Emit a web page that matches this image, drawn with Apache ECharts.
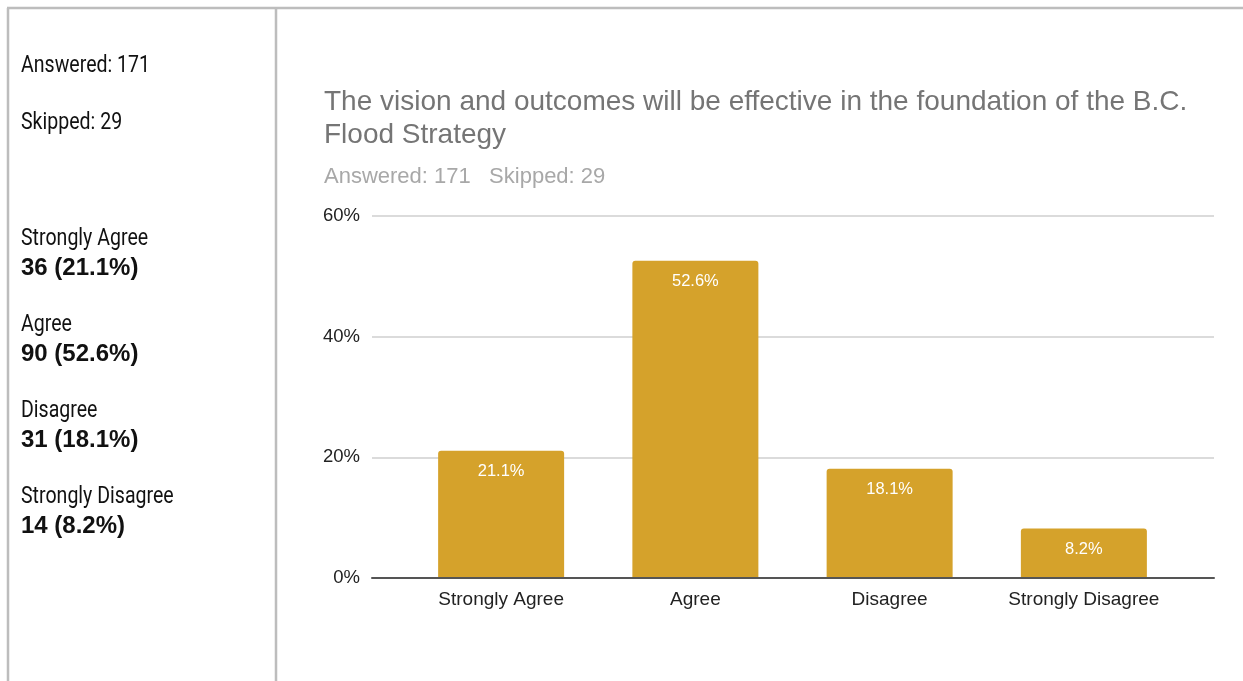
<!DOCTYPE html>
<html>
<head>
<meta charset="utf-8">
<script src="https://cdn.jsdelivr.net/npm/echarts@6/dist/echarts.min.js"></script>
<style>
  html, body { margin: 0; padding: 0; background: #fff; }
  #chart { width: 1243px; height: 681px; }
</style>
</head>
<body>
<div id="chart"></div>
<script>
// Survey question and response counts
const titleText = 'The vision and outcomes will be effective in the foundation of the B.C.\nFlood Strategy';
const answered = 171;
const skipped = 29;
const categories = ['Strongly Agree', 'Agree', 'Disagree', 'Strongly Disagree'];
const counts = [36, 90, 31, 14];
const percents = [21.1, 52.6, 18.1, 8.2];
const yTicks = [0, 20, 40, 60];

const chart = echarts.init(document.getElementById('chart'), null, { renderer: 'canvas' });

const sideFont = 'Roboto, sans-serif';
const chartFont = '"Liberation Sans", Arial, sans-serif';

// Left summary panel: a narrow face, squeezed slightly horizontally
function sideText(str, top, bold) {
  return {
    type: 'text', x: 21, y: top, scaleX: bold ? 1 : 0.85,
    style: {
      text: str,
      font: bold ? 'bold 24px ' + chartFont : '23px ' + sideFont,
      fill: '#111', textVerticalAlign: 'top'
    },
    silent: true
  };
}
const panelItems = [
  sideText('Answered: ' + answered, 55, false),
  sideText('Skipped: ' + skipped, 112, false)
];
const rowTops = [228, 314, 400, 486];
categories.forEach((c, i) => {
  panelItems.push(sideText(c, rowTops[i], false));
  panelItems.push(sideText(counts[i] + ' (' + percents[i] + '%)', rowTops[i] + 28, true));
});

const borderStyle = { stroke: '#bdbdbd', lineWidth: 2.5 };
const frame = [
  { type: 'line', shape: { x1: 7, y1: 8, x2: 1243, y2: 8 }, style: borderStyle, silent: true },
  { type: 'line', shape: { x1: 8, y1: 8, x2: 8, y2: 681 }, style: borderStyle, silent: true },
  { type: 'line', shape: { x1: 276, y1: 8, x2: 276, y2: 681 }, style: borderStyle, silent: true }
];

chart.setOption({
  animation: false,
  backgroundColor: '#fff',
  title: {
    text: titleText,
    subtext: 'Answered: ' + answered + '   Skipped: ' + skipped,
    left: 319,
    top: 81,
    itemGap: 14,
    textStyle: { fontFamily: chartFont, fontSize: 28, fontWeight: 'normal', color: '#757575', lineHeight: 33 },
    subtextStyle: { fontFamily: chartFont, fontSize: 22, color: '#a8a8a8' }
  },
  graphic: frame.concat(panelItems),
  grid: [
    // full-width grid: gridlines, y labels and baseline
    { left: 372, right: 29, top: 216, bottom: 103 },
    // inner grid holding the bars
    { left: 404, right: 62, top: 216, bottom: 103 }
  ],
  xAxis: [
    {
      gridIndex: 0, type: 'value', min: 0, max: 1,
      axisLine: { show: true, lineStyle: { color: '#555', width: 2 } },
      axisTick: { show: false }, axisLabel: { show: false }, splitLine: { show: false }, z: 5
    },
    {
      gridIndex: 1, type: 'category', data: categories,
      axisLine: { show: false }, axisTick: { show: false },
      axisLabel: { interval: 0, margin: 12, fontFamily: chartFont, fontSize: 19, color: '#222' }
    }
  ],
  yAxis: [
    {
      gridIndex: 0, type: 'value', min: yTicks[0], max: yTicks[yTicks.length - 1], interval: 20,
      axisLine: { show: false }, axisTick: { show: false },
      axisLabel: { margin: 12, formatter: '{value}%', fontFamily: chartFont, fontSize: 18.5, color: '#222' },
      splitLine: { lineStyle: { color: '#cfcfcf', width: 1.5 } }
    },
    {
      gridIndex: 1, type: 'value', min: yTicks[0], max: yTicks[yTicks.length - 1], interval: 20,
      axisLine: { show: false }, axisTick: { show: false }, axisLabel: { show: false }, splitLine: { show: false }
    }
  ],
  series: [{
    type: 'bar',
    xAxisIndex: 1,
    yAxisIndex: 1,
    data: percents,
    barWidth: 126,
    itemStyle: { color: '#d5a22b', borderRadius: [3, 3, 0, 0] },
    label: {
      show: true, position: 'insideTop', distance: 12,
      formatter: p => p.value + '%',
      fontFamily: chartFont, fontSize: 16.5, color: '#fff'
    },
    z: 3
  }]
});
</script>
</body>
</html>
